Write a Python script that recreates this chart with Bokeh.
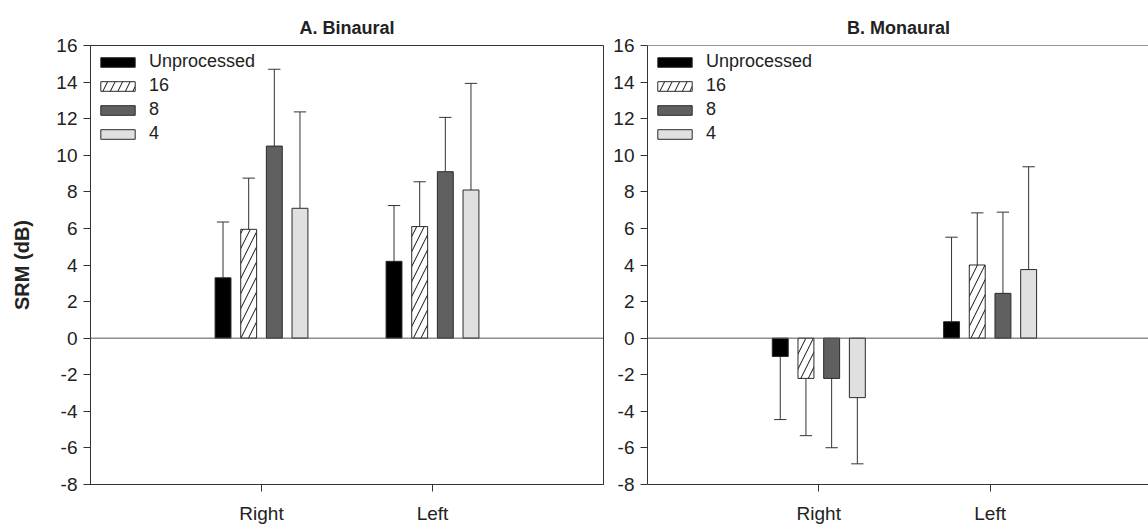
import numpy as np
from bokeh.plotting import figure
from bokeh.layouts import row
from bokeh.models import Range1d, FixedTicker, Span, Legend, LegendItem
from bokeh.embed import file_html
from bokeh.resources import INLINE

# ---- data ----
categories = ["Right", "Left"]
series = ["Unprocessed", "16", "8", "4"]

# A. Binaural: mean SRM (dB) and SD for Right, Left
bin_unproc = [3.3, 4.2]
bin_16 = [5.95, 6.1]
bin_8 = [10.5, 9.1]
bin_4 = [7.1, 8.1]
bin_unproc_sd = [3.05, 3.05]
bin_16_sd = [2.8, 2.45]
bin_8_sd = [4.2, 2.97]
bin_4_sd = [5.27, 5.83]

# B. Monaural
mon_unproc = [-1.0, 0.9]
mon_16 = [-2.2, 4.0]
mon_8 = [-2.2, 2.45]
mon_4 = [-3.25, 3.75]
mon_unproc_sd = [3.45, 4.62]
mon_16_sd = [3.13, 2.85]
mon_8_sd = [3.79, 4.44]
mon_4_sd = [3.62, 5.62]

y_ticks = [-8, -6, -4, -2, 0, 2, 4, 6, 8, 10, 12, 14, 16]
y_tick_labels = ["-8", "-6", "-4", "-2", "0", "2", "4", "6", "8", "10", "12", "14", "16"]

# ---- styling ----
FONT = "Liberation Sans"
TXT = "#222222"
AX = "#333333"
fills = ["#000000", "#ffffff", "#606060", "#e0e0e0"]
hatches = [None, "/", None, None]
offsets = [-0.225, -0.075, 0.075, 0.225]
BAR_W = 0.093
CAP = 0.036


def make_panel(title, means, sds, frame_w, xmax, border_left, border_right, show_ylabel, outline):
    p = figure(frame_width=frame_w, frame_height=439,
               x_range=Range1d(0, xmax), y_range=Range1d(-8, 16),
               output_backend="svg", toolbar_location=None,
               min_border_left=border_left, min_border_right=border_right,
               min_border_top=45, min_border_bottom=41)
    p.grid.visible = False
    p.background_fill_color = "white"
    p.border_fill_color = "white"
    if outline:
        p.outline_line_color = AX
        p.outline_line_width = 1
        p.outline_line_alpha = 1
    else:
        p.outline_line_color = None
        p.add_layout(Span(location=16, dimension="width", line_color=AX, line_width=1))

    p.title.text = title
    p.title.align = "center"
    p.title.text_font = FONT
    p.title.text_font_size = "18px"
    p.title.text_font_style = "bold"
    p.title.text_color = TXT
    p.title.standoff = 15

    # axes
    p.xaxis.ticker = FixedTicker(ticks=[1, 2])
    p.xaxis.major_label_overrides = {i + 1: c for i, c in enumerate(categories)}
    p.yaxis.ticker = FixedTicker(ticks=y_ticks)
    p.yaxis.major_label_overrides = dict(zip(y_ticks, y_tick_labels))
    for ax in (p.xaxis, p.yaxis):
        ax.axis_line_color = AX
        ax.axis_line_width = 1
        ax.major_tick_line_color = AX
        ax.major_tick_out = 7
        ax.major_tick_in = 0
        ax.minor_tick_line_color = None
        ax.major_label_text_font = FONT
        ax.major_label_text_font_size = "19px"
        ax.major_label_text_color = TXT
    p.xaxis.major_label_standoff = 11
    p.yaxis.major_label_standoff = 6
    if show_ylabel:
        p.yaxis.axis_label = "SRM (dB)"
        p.yaxis.axis_label_text_font = FONT
        p.yaxis.axis_label_text_font_size = "20px"
        p.yaxis.axis_label_text_font_style = "bold"
        p.yaxis.axis_label_text_color = TXT
        p.yaxis.axis_label_standoff = 20

    # zero line
    p.add_layout(Span(location=0, dimension="width", line_color="#555555", line_width=1))

    cat_x = np.arange(1, len(categories) + 1, dtype=float)
    items = []
    for k, name in enumerate(series):
        x = cat_x + offsets[k]
        m = np.array(means[k], dtype=float)
        s = np.array(sds[k], dtype=float)
        end = m + np.sign(m) * s
        # error bars (one-sided, away from zero)
        p.segment(x0=x, y0=m, x1=x, y1=end, line_color="#333333", line_width=1)
        p.segment(x0=x - CAP, y0=end, x1=x + CAP, y1=end, line_color="#333333", line_width=1)
        kw = dict(x=x, top=m, bottom=np.zeros_like(m), width=BAR_W,
                  fill_color=fills[k], line_color="#2a2a2a", line_width=1)
        if hatches[k]:
            kw.update(hatch_pattern=hatches[k], hatch_color="#111111", hatch_weight=1, hatch_scale=15)
        r = p.vbar(**kw)
        items.append(LegendItem(label=name, renderers=[r]))

    leg = Legend(items=items, location="top_left", margin=6, padding=0,
                 spacing=3, glyph_width=43, glyph_height=12, label_height=12,
                 label_standoff=10, label_text_font=FONT, label_text_font_size="18px",
                 label_text_color=TXT, border_line_color=None, background_fill_alpha=0)
    p.add_layout(leg)
    return p


pA = make_panel("A. Binaural",
                [bin_unproc, bin_16, bin_8, bin_4],
                [bin_unproc_sd, bin_16_sd, bin_8_sd, bin_4_sd],
                frame_w=513, xmax=3.0, border_left=90, border_right=7,
                show_ylabel=True, outline=True)
pB = make_panel("B. Monaural",
                [mon_unproc, mon_16, mon_8, mon_4],
                [mon_unproc_sd, mon_16_sd, mon_8_sd, mon_4_sd],
                frame_w=502, xmax=502 / 171.3, border_left=36, border_right=0,
                show_ylabel=False, outline=False)

layout = row(pA, pB, spacing=0)
open("out.html", "w").write(file_html(layout, INLINE))
